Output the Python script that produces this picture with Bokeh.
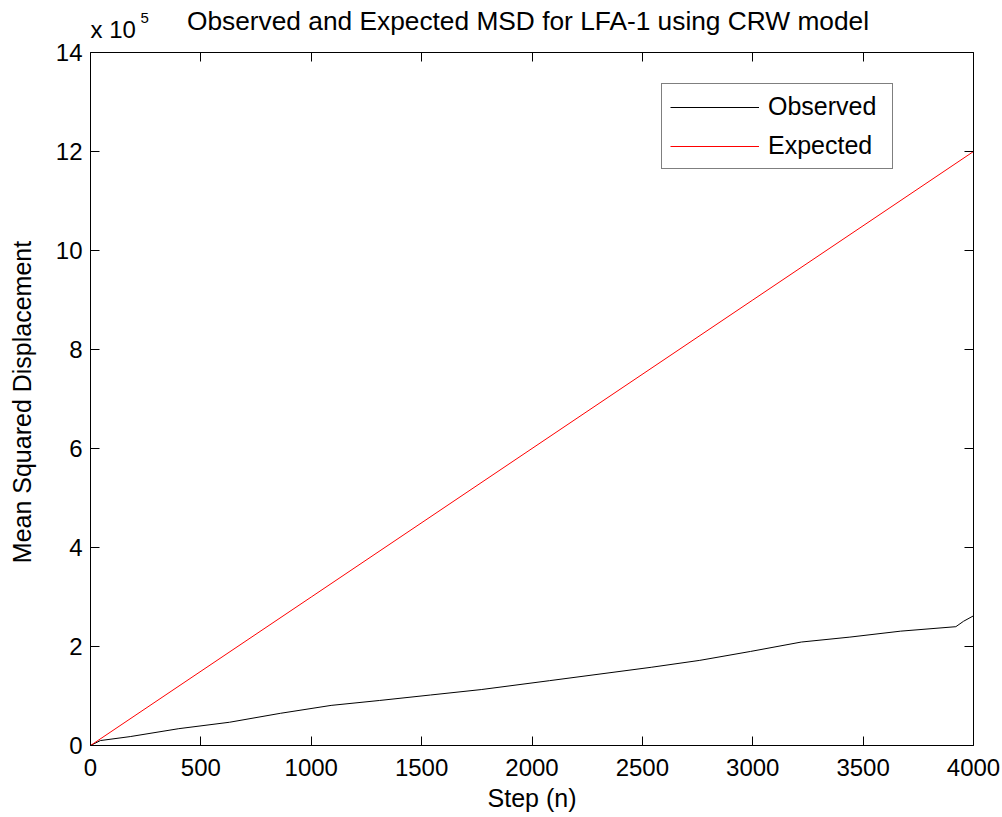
import math
from bokeh.plotting import figure
from bokeh.models import (Range1d, LinearAxis, SingleIntervalTicker, CustomJSTickFormatter,
                          Legend, LegendItem, Label)
from bokeh.embed import file_html
from bokeh.resources import INLINE

# ---------------- data ----------------
obs_step = [0, 45, 180, 400, 630, 860, 1090, 1310, 1540, 1770, 2080, 2540, 2760, 2990,
            3220, 3440, 3670, 3920, 3955, 4000]
obs_msd = [0, 10000, 18000, 34000, 47000, 65000, 81000, 91000, 102000, 113000, 131000,
           158000, 172000, 190000, 209000, 219000, 231000, 240000, 251000, 262000]
exp_step = [0, 1000, 2000, 3000, 4000]
exp_msd = [0, 300000, 600000, 900000, 1200000]

title_text = "Observed and Expected MSD for LFA-1 using CRW model"
x_label = "Step (n)"
y_label = "Mean Squared Displacement"
series_names = ["Observed", "Expected"]
exp_base = "x 10"
exp_power = "5"

X_MIN, X_MAX = 0, 4000
Y_MIN, Y_MAX = 0, 1400000

FONT = "Liberation Sans"

# ---------------- layout (pixels) ----------------
W, H = 1002, 817
BOX_LEFT, BOX_RIGHT = 90, 973
BOX_TOP, BOX_BOTTOM = 52, 745
ppx = (BOX_RIGHT - BOX_LEFT) / (X_MAX - X_MIN)
ppy = (BOX_BOTTOM - BOX_TOP) / (Y_MAX - Y_MIN)
x_lo = X_MIN - BOX_LEFT / ppx
x_hi = X_MAX + (W - BOX_RIGHT) / ppx
y_lo = Y_MIN - (H - BOX_BOTTOM) / ppy
y_hi = Y_MAX + BOX_TOP / ppy

p = figure(width=W, height=H, output_backend="svg", toolbar_location=None,
           title_location=None,
           x_range=Range1d(x_lo, x_hi), y_range=Range1d(y_lo, y_hi),
           min_border=0, min_border_left=0, min_border_right=0, min_border_top=0,
           min_border_bottom=0, x_axis_type=None, y_axis_type=None)
p.background_fill_color = "white"
p.border_fill_color = "white"
p.outline_line_color = None
p.grid.visible = False

xt = SingleIntervalTicker(interval=500, num_minor_ticks=0)
yt = SingleIntervalTicker(interval=200000, num_minor_ticks=0)
yfmt = CustomJSTickFormatter(code="return (tick/1e5).toFixed(0);")
blank = CustomJSTickFormatter(code="return '';")


def style_axis(ax, show_labels, standoff=8):
    ax.axis_line_color = "black"
    ax.axis_line_width = 1
    ax.major_tick_line_color = "black"
    ax.major_tick_in = 9
    ax.major_tick_out = 0
    ax.minor_tick_line_color = None
    if show_labels:
        ax.major_label_text_font = FONT
        ax.major_label_text_font_size = "24px"
        ax.major_label_text_color = "black"
        ax.major_label_standoff = standoff
    else:
        ax.major_label_text_font_size = "1px"
        ax.major_label_standoff = 0


xb = LinearAxis(ticker=xt, fixed_location=Y_MIN, bounds=(X_MIN, X_MAX))
style_axis(xb, True, standoff=13)
p.add_layout(xb, "below")

xtop = LinearAxis(ticker=xt, formatter=blank, fixed_location=Y_MAX, bounds=(X_MIN, X_MAX))
style_axis(xtop, False)
p.add_layout(xtop, "above")

yl = LinearAxis(ticker=yt, formatter=yfmt, fixed_location=X_MIN, bounds=(Y_MIN, Y_MAX))
style_axis(yl, True, standoff=8)
p.add_layout(yl, "left")

yr = LinearAxis(ticker=yt, formatter=blank, fixed_location=X_MAX, bounds=(Y_MIN, Y_MAX))
style_axis(yr, False)
p.add_layout(yr, "right")

r_obs = p.line(obs_step, obs_msd, line_color="black", line_width=1)
r_exp = p.line(exp_step, exp_msd, line_color="#ff0000", line_width=1)


def add_text(txt, x, y, dx, dy, size, align="center", angle=0.0):
    p.add_layout(Label(x=x, y=y, x_offset=dx, y_offset=dy, text=txt, angle=angle,
                       text_align=align, text_baseline="middle", text_font=FONT,
                       text_font_size=size, text_color="black"))


add_text(title_text, (X_MIN + X_MAX) / 2, Y_MAX, -4, 32, "26.3px")
add_text(x_label, (X_MIN + X_MAX) / 2, Y_MIN, 0, -52, "25px")
add_text(y_label, X_MIN, (Y_MIN + Y_MAX) / 2, -69, -3, "25px", angle=math.pi / 2)
add_text(exp_base, X_MIN, Y_MAX, 0, 23, "24px", align="left")
add_text(exp_power, X_MIN, Y_MAX, 50, 35, "15px", align="left")

legend = Legend(items=[LegendItem(label=series_names[0], renderers=[r_obs]),
                       LegendItem(label=series_names[1], renderers=[r_exp])],
                location=(661, H - 169), margin=0, padding=8, spacing=10,
                glyph_width=89, glyph_height=20, label_height=20, label_width=116,
                label_standoff=9, label_text_font=FONT, label_text_font_size="25px",
                label_text_color="black", border_line_color="black", border_line_width=1,
                background_fill_color="white", background_fill_alpha=1.0)
p.add_layout(legend, "center")

open("out.html", "w").write(file_html(p, INLINE))
